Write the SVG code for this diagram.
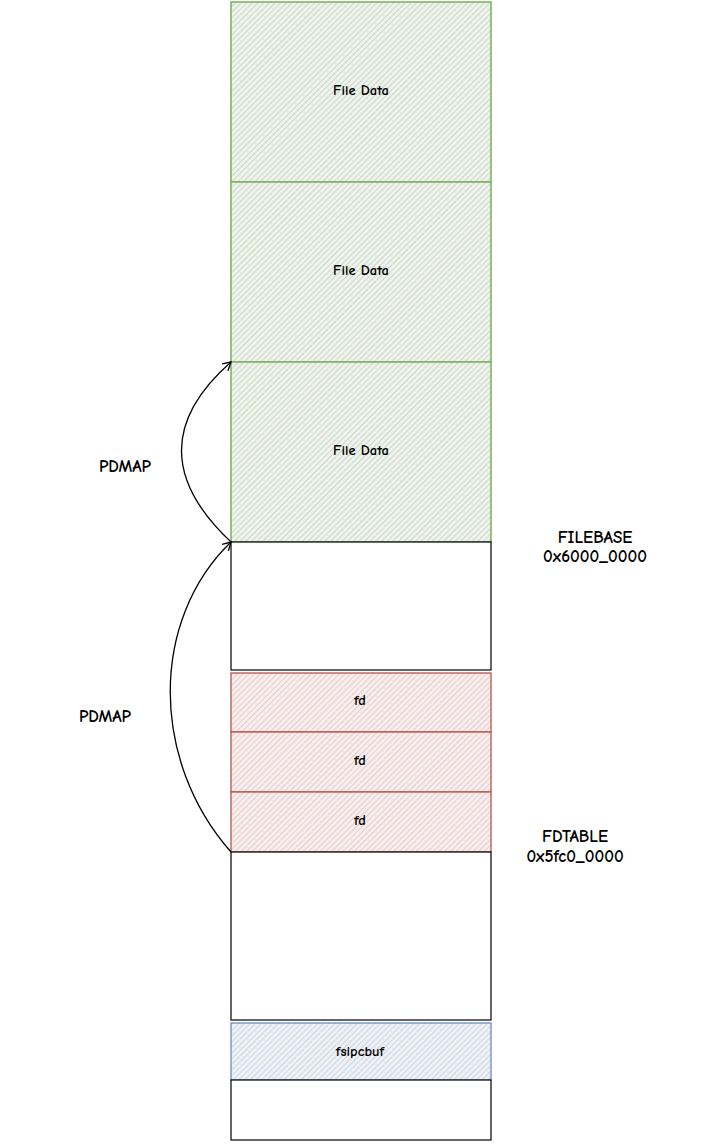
<svg xmlns="http://www.w3.org/2000/svg" width="703" height="1144" viewBox="0 0 703 1144">
<style>
text{font-family:"Comic Neue","Liberation Sans","DejaVu Sans",sans-serif;fill:#000;text-anchor:middle;dominant-baseline:central;font-weight:700}
.lbl{font-size:14.5px}
.side{font-size:17px}
.blank{fill:#fff;stroke:#000;stroke-width:1.2}
.green{fill:url(#hg);stroke:#82b366;stroke-width:1.6}
.red{fill:url(#hr);stroke:#b85450;stroke-width:1.3}
.blue{fill:url(#hb);stroke:#6c8ebf;stroke-width:1.3}
.conn{fill:none;stroke:#000;stroke-width:1.3}
</style>
<defs>
<pattern id="hg" width="4" height="4" patternUnits="userSpaceOnUse" patternTransform="rotate(45)">
<rect width="4" height="4" fill="#eef3ec"/><line x1="0" y1="0" x2="0" y2="4" stroke="#b8c8b5" stroke-width="1.3"/>
</pattern>
<pattern id="hr" width="4" height="4" patternUnits="userSpaceOnUse" patternTransform="rotate(45)">
<rect width="4" height="4" fill="#f8eeed"/><line x1="0" y1="0" x2="0" y2="4" stroke="#d6bcba" stroke-width="1.3"/>
</pattern>
<pattern id="hb" width="4" height="4" patternUnits="userSpaceOnUse" patternTransform="rotate(45)">
<rect width="4" height="4" fill="#eef2f8"/><line x1="0" y1="0" x2="0" y2="4" stroke="#bcc5d2" stroke-width="1.3"/>
</pattern>
<marker id="arr" markerWidth="12" markerHeight="12" refX="10" refY="6" orient="auto" markerUnits="userSpaceOnUse">
<path d="M2,1.5 L10,6 L2,10.5" fill="none" stroke="#000" stroke-width="1.3"/>
</marker>
</defs>
<g id="filedata1"><rect class="green" x="231" y="2" width="260" height="180"/><text class="lbl" x="361" y="90">File Data</text></g>
<g id="filedata2"><rect class="green" x="231" y="182" width="260" height="180"/><text class="lbl" x="361" y="270">File Data</text></g>
<g id="filedata3"><rect class="green" x="231" y="362" width="260" height="180"/><text class="lbl" x="361" y="450">File Data</text></g>
<g id="blank1"><rect class="blank" x="231" y="542" width="260" height="128"/></g>
<g id="fd1"><rect class="red" x="231" y="673" width="260" height="59"/><text class="lbl" x="360" y="700">fd</text></g>
<g id="fd2"><rect class="red" x="231" y="732" width="260" height="60"/><text class="lbl" x="360" y="760">fd</text></g>
<g id="fd3"><rect class="red" x="231" y="792" width="260" height="60"/><text class="lbl" x="360" y="820">fd</text></g>
<g id="blank2"><rect class="blank" x="231" y="852" width="260" height="168"/></g>
<g id="fsipcbuf"><rect class="blue" x="231" y="1023" width="260" height="57"/><text class="lbl" x="360" y="1051">fsipcbuf</text></g>
<g id="blank3"><rect class="blank" x="231" y="1080" width="260" height="60"/></g>
<g id="labels">
<text class="side" x="125" y="466">PDMAP</text>
<text class="side" x="105" y="716">PDMAP</text>
<text class="side" x="595" y="537">FILEBASE</text>
<text class="side" x="595" y="556">0x6000_0000</text>
<text class="side" x="575" y="836">FDTABLE</text>
<text class="side" x="575" y="856">0x5fc0_0000</text>
</g>
<g id="connectors">
<path class="conn" d="M231,542 C165,480 165,420 231,362" marker-end="url(#arr)"/>
<path class="conn" d="M231,852 C150,760 150,620 231,542" marker-end="url(#arr)"/>
</g>
</svg>
